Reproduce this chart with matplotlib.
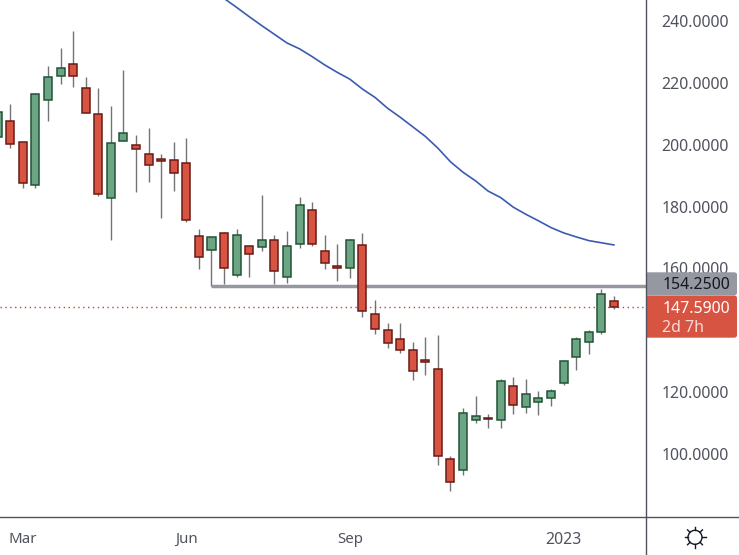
import matplotlib
matplotlib.use("Agg")
import matplotlib.pyplot as plt
from matplotlib.lines import Line2D
from matplotlib.patches import FancyBboxPatch, Circle
import numpy as np

plt.rcParams['font.family'] = ['Noto Sans', 'DejaVu Sans']

# weekly candles
opens = [202.4,207.6,200.8,186.9,214.4,222.1,226.0,218.2,209.8,182.7,201.1,199.8,196.9,195.3,195.0,194.0,170.4,
         165.9,171.4,158.0,167.2,166.8,169.1,157.1,167.8,178.8,165.5,160.7,160.0,167.5,145.2,140.0,137.1,133.5,
         130.3,127.4,98.3,94.7,110.9,111.6,110.9,121.9,115.1,116.7,118.0,122.9,131.3,136.1,139.4,149.4]
closes = [210.5,200.1,187.5,216.3,221.8,224.7,222.1,210.2,184.0,200.5,203.7,198.5,193.4,194.8,190.8,175.6,163.6,
          170.1,160.0,170.7,164.6,169.1,159.1,167.2,180.4,167.8,161.7,160.2,169.1,146.2,140.3,135.8,133.5,126.7,
          129.9,99.3,90.9,113.2,112.2,111.4,123.5,115.8,119.3,118.0,120.3,130.0,137.1,139.4,151.6,147.59]
highs = [210.6,213.2,200.8,216.7,225.5,231.3,236.8,221.8,218.3,212.5,224.2,203.2,205.4,197.0,200.9,202.2,172.8,
         170.1,171.8,172.7,167.6,183.8,170.7,172.0,183.0,181.4,170.7,167.8,169.4,171.4,149.7,142.3,142.3,136.1,
         137.8,138.5,99.3,114.8,118.8,112.9,124.2,124.9,124.2,120.4,120.9,130.3,137.8,140.1,153.3,151.0]
lows = [202.2,199.0,186.1,186.1,207.8,219.7,218.8,210.2,183.5,169.3,201.1,184.8,188.0,176.3,185.1,175.1,159.9,
        154.3,155.1,157.3,157.3,165.8,155.1,155.4,166.7,167.4,159.9,156.0,157.0,144.4,138.9,134.4,132.8,123.9,
        125.7,96.6,88.1,93.3,110.1,108.5,108.5,113.0,113.4,112.7,115.6,122.4,127.3,132.4,138.9,146.9]

# moving average, starts at candle 18
ma_start = 18
ma = [247.3,244.4,241.4,238.5,235.7,232.9,231.0,228.5,225.8,223.4,221.2,218.0,215.3,211.8,208.9,205.8,202.7,198.9,
      194.5,191.1,188.3,185.0,182.9,179.8,177.5,175.4,173.2,171.5,170.2,169.0,168.3,167.6]

level = 154.25
level_start = 17
last_price = 147.59
price_ticks = [240, 220, 200, 180, 160, 120, 100]
time_idx = [2, 15, 28, 45]
time_labels = ['Mar', 'Jun', 'Sep', '2023']

W, H = 739, 555
fig = plt.figure(figsize=(W / 100, H / 100), dpi=100)
ax = fig.add_axes([0, 1 - 517 / H, 646 / W, 517 / H])
ax.set_xlim(0.183, 51.55)
ax.set_ylim(79.64, 246.79)

idx = np.arange(len(opens))
o = np.array(opens)
c = np.array(closes)
up = c >= o
fills = np.where(up, '#6ba583', '#d75442')
edges = np.where(up, '#225437', '#6b1a15')

ax.vlines(idx, lows, highs, color='#737375', lw=1.0, zorder=2)
ax.bar(idx, c - o, bottom=o, width=0.64, color=fills, edgecolor=edges, lw=1.1, zorder=3)

ax.plot(np.arange(len(ma)) + ma_start, ma, color='#3a5bb0', lw=1.2, zorder=4)
ax.hlines(level, level_start, 51.55, color='#9598a1', lw=2.5, zorder=2.5)
ax.axhline(last_price, color='#c8402e', lw=1.0, ls=(0, (1, 2.5)), zorder=2.6)

for s in ax.spines.values():
    s.set_visible(False)
ax.yaxis.tick_right()
ax.set_yticks(price_ticks, ['%.4f' % t for t in price_ticks])
ax.set_xticks(time_idx, time_labels)
ax.tick_params(axis='y', length=0, pad=11, labelsize=11.4, labelcolor='#50535e')
ax.tick_params(axis='x', length=0, pad=10.5, labelsize=10.8, labelcolor='#50535e')
ax.get_xticklabels()[3].set_fontweight('bold')
ax.get_xticklabels()[3].set_fontsize(11.4)


def px(x, y):
    return x / W, 1 - y / H


# axis frame lines
axis_col = '#50535e'
fig.add_artist(Line2D([646 / W, 646 / W], [0, 1], color=axis_col, lw=1.0, zorder=5))
fig.add_artist(Line2D([0, 1], [1 - 517 / H, 1 - 517 / H], color=axis_col, lw=1.0, zorder=5))


def tag(top, bottom, color):
    x0, y1 = px(640, top)
    x1, y0 = px(737, bottom)
    p = FancyBboxPatch((x0, y0), x1 - x0, y1 - y0, boxstyle='round,pad=0,rounding_size=0.004',
                       transform=fig.transFigure, fc=color, ec='none', zorder=4)
    # keep only the part right of the axis line
    clip = plt.Rectangle((646.5, 0), 100, H, transform=None)
    p.set_clip_path(clip)
    fig.add_artist(p)


tag(272.3, 295.3, '#9598a1')
tag(295.5, 337.7, '#d75442')

fig.text(*px(662.5, 285), '%.4f' % level, color='#131722', fontsize=11.4, va='center', ha='left', zorder=6)
fig.text(*px(662.5, 309), '%.4f' % last_price, color='white', fontsize=11.4, va='center', ha='left', zorder=6)
fig.text(*px(662.5, 328), '2d 7h', color='#f7dcd8', fontsize=11.4, va='center', ha='left', zorder=6)

# settings icon in the corner
cx, cy = 695, 537.3
sun = '#131722'
fig.add_artist(Circle((cx, H - cy), 7, transform=None, fc='none', ec=sun, lw=1.0, zorder=6))
for a in np.arange(0, 2 * np.pi, np.pi / 4):
    xs = [cx + 7 * np.cos(a), cx + 10.5 * np.cos(a)]
    ys = [H - cy + 7 * np.sin(a), H - cy + 10.5 * np.sin(a)]
    fig.add_artist(Line2D(xs, ys, transform=None, color=sun, lw=1.0, zorder=6))

fig.savefig('out.png', dpi=100)
